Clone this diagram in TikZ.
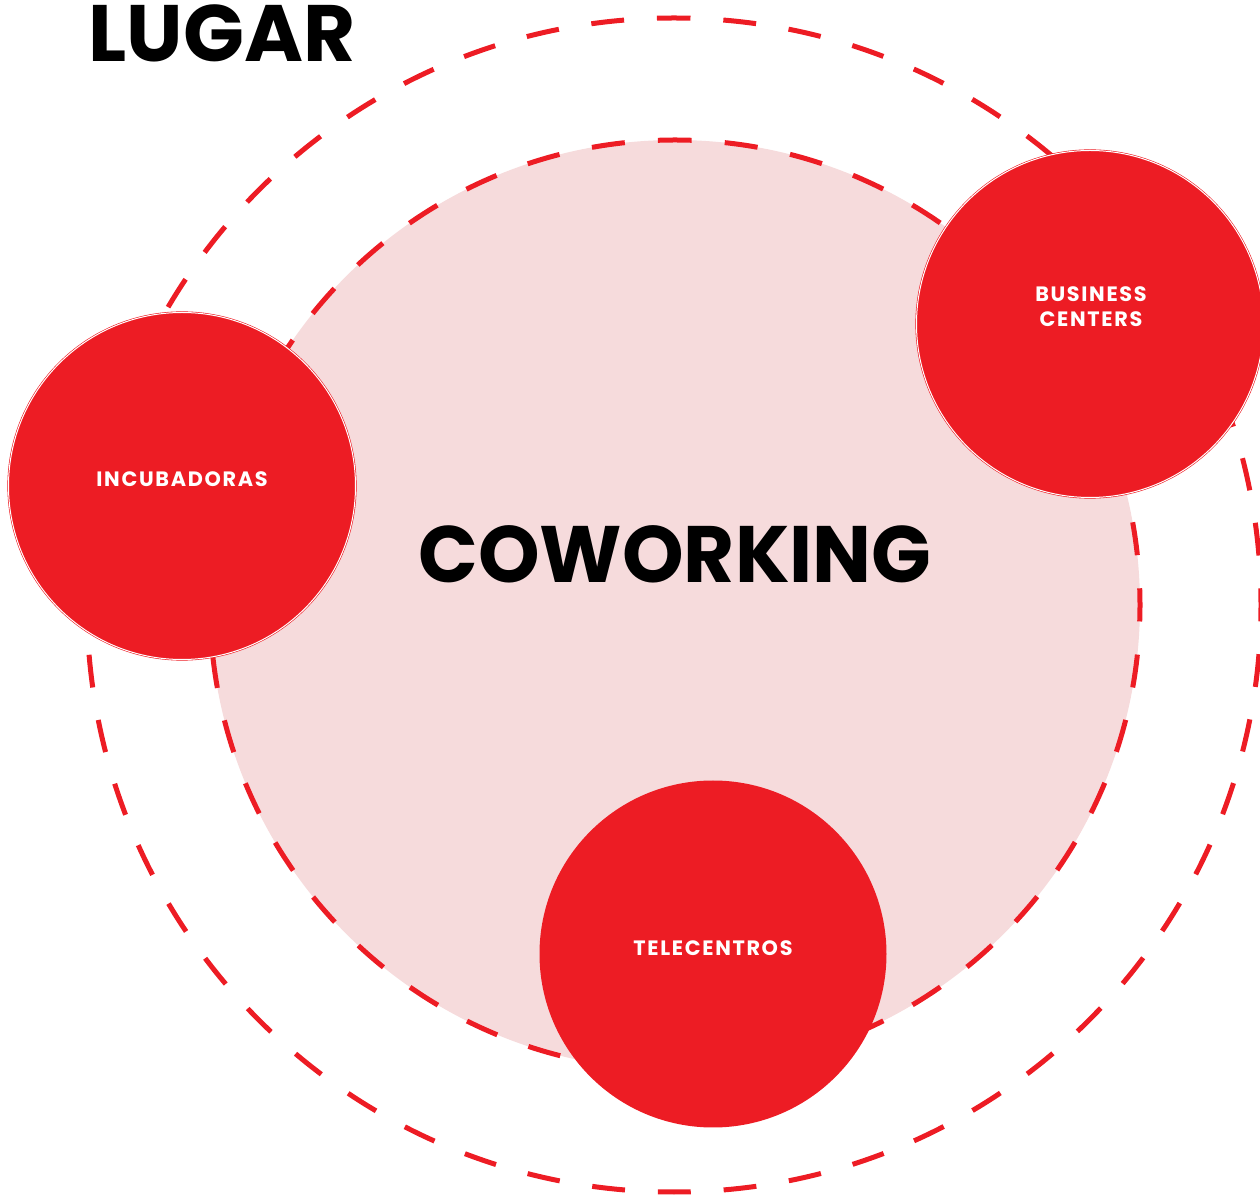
\documentclass[tikz,border=0pt]{standalone}
\usepackage{fontspec}
\setmainfont{Poppins}
\newfontfamily\tagfont{Poppins}[LetterSpace=8]
\definecolor{lugarred}{RGB}{237,28,36}
\definecolor{lugarpink}{RGB}{246,219,220}

\begin{document}
\begin{tikzpicture}[x=0.5pt, y=-0.5pt,
  ring/.style={draw=lugarred, line width=2.5pt, dash pattern=on #1 off #1, dash phase=#1/2},
  bubble/.style={circle, fill=lugarred, minimum size=173.5pt, inner sep=0pt},
  rim/.style={draw=lugarred, line width=0.3pt, double=white, double distance=0.5pt},
  bubbletext/.style={anchor=base, text=white, align=center, inner sep=0pt,
    font=\tagfont\bfseries\fontsize{10.4}{12.5}\selectfont},
  bigtext/.style={anchor=base, inner sep=0pt, font=\bfseries\fontsize{40}{40}\selectfont}]
  \useasboundingbox (0,0) rectangle (1260,1197);

  \coordinate (O) at (675,605);
  \coordinate (Otop) at (675,140);
  \coordinate (Rtop) at (674,18);

  % zona coworking (44 trazos)
  \fill[lugarpink] (O) circle[radius=465];
  \draw[ring=16.6pt] (Otop) arc[start angle=-90, end angle=270, radius=465];

  % anillo exterior (56 trazos)
  \draw[ring=16.465pt] (Rtop) arc[start angle=-90, end angle=270, radius=587];

  % burbujas
  \node[bubble, rim] (incub) at (182,486) {};
  \node[bubble, rim] (business) at (1090,324) {};
  \node[bubble] (tele) at (713,954) {};

  \node[bubbletext] (incub-txt) at (182,487) {INCUBADORAS};
  \node[bubbletext] (business-txt) at (1091,327) {BUSINESS\\CENTERS};
  \node[bubbletext] (tele-txt) at (713,956) {TELECENTROS};

  \node[bigtext, xscale=0.98] (coworking) at (675,583) {COWORKING};
  \node[bigtext] (lugar) at (222,62) {LUGAR};
\end{tikzpicture}
\end{document}
